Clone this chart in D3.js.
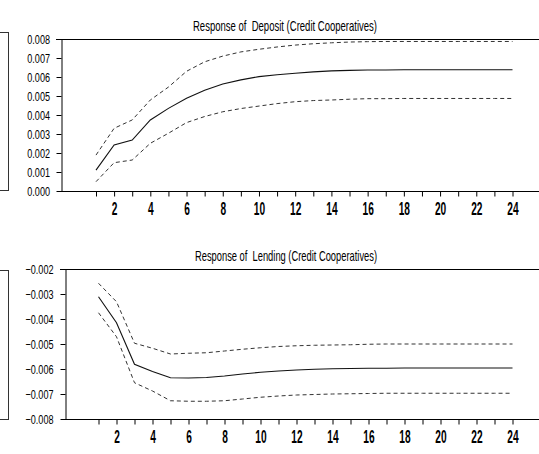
<!DOCTYPE html>
<html>
<head>
<meta charset="utf-8">
<script src="https://cdn.jsdelivr.net/npm/d3@7"></script>
<style>
  body { margin: 0; background: #fff; }
  svg { display: block; font-family: "Liberation Sans", Arial, sans-serif; }
  text { white-space: pre; }
</style>
</head>
<body>
<svg id="chart" width="539" height="454"></svg>
<script>
var periods = [1, 2, 3, 4, 5, 6, 7, 8, 9, 10, 11, 12, 13, 14, 15, 16, 17, 18, 19, 20, 21, 22, 23, 24];
var xTickLabels = [2, 4, 6, 8, 10, 12, 14, 16, 18, 20, 22, 24];

var depositTicks = [0.000, 0.001, 0.002, 0.003, 0.004, 0.005, 0.006, 0.007, 0.008];
var depositMid = [0.00110, 0.00242, 0.00268, 0.00374, 0.00435, 0.00488, 0.00530, 0.00563, 0.00585, 0.00602, 0.00612, 0.00620,
                  0.00627, 0.00632, 0.00635, 0.00637, 0.00637, 0.00638, 0.00638, 0.00638, 0.00638, 0.00638, 0.00638, 0.00638];
var depositUpper = [0.00189, 0.00330, 0.00374, 0.00479, 0.00547, 0.00630, 0.00680, 0.00710, 0.00732, 0.00746, 0.00758, 0.00768,
                    0.00775, 0.00780, 0.00784, 0.00786, 0.00787, 0.00787, 0.00787, 0.00787, 0.00787, 0.00787, 0.00787, 0.00787];
var depositLower = [0.00049, 0.00149, 0.00163, 0.00251, 0.00304, 0.00360, 0.00392, 0.00417, 0.00434, 0.00447, 0.00460, 0.00470,
                    0.00476, 0.00479, 0.00483, 0.00486, 0.00486, 0.00487, 0.00487, 0.00487, 0.00487, 0.00487, 0.00487, 0.00487];

var lendingTicks = [-0.008, -0.007, -0.006, -0.005, -0.004, -0.003, -0.002];
var lendingMid = [-0.00311, -0.00415, -0.00581, -0.00610, -0.00635, -0.00636, -0.00634, -0.00628, -0.00620, -0.00613, -0.00608, -0.00604,
                  -0.00601, -0.00599, -0.00598, -0.00597, -0.00597, -0.00596, -0.00596, -0.00596, -0.00596, -0.00596, -0.00596, -0.00596];
var lendingUpper = [-0.00257, -0.00331, -0.00497, -0.00517, -0.00540, -0.00537, -0.00535, -0.00528, -0.00521, -0.00515, -0.00510, -0.00507,
                    -0.00505, -0.00504, -0.00503, -0.00501, -0.00500, -0.00500, -0.00500, -0.00500, -0.00500, -0.00500, -0.00500, -0.00500];
var lendingLower = [-0.00375, -0.00471, -0.00655, -0.00688, -0.00727, -0.00729, -0.00729, -0.00727, -0.00720, -0.00713, -0.00708, -0.00704,
                    -0.00702, -0.00700, -0.00699, -0.00698, -0.00697, -0.00697, -0.00697, -0.00697, -0.00697, -0.00697, -0.00697, -0.00697];

var svg = d3.select('#chart');

// the source font is a narrow, tall one: squeeze Liberation Sans horizontally
var yScaleX = 0.70;
var xScaleX = 0.55;

function drawPanel(p) {
    var g = svg.append('g');

    // cropped frame of the neighbouring panel on the left
    g.append('rect')
        .attr('x', -10).attr('y', p.boxTop + 0.5)
        .attr('width', 18.5).attr('height', p.boxBottom - p.boxTop)
        .attr('fill', 'none').attr('stroke', '#333').attr('stroke-width', 1);

    var x = d3.scaleLinear().domain([1, 24]).range([p.x1, p.x24]);
    var y = d3.scaleLinear().domain(p.domain).range([p.bottom, p.top]);

    // frame lines
    g.append('line').attr('x1', p.left - 5).attr('x2', 539).attr('y1', p.top + 0.5).attr('y2', p.top + 0.5)
        .attr('stroke', '#000');

    var yAxis = d3.axisLeft(y).tickValues(p.ticks).tickSize(5).tickSizeOuter(0)
        .tickFormat(d3.format('.3f'));
    var ya = g.append('g').attr('transform', 'translate(' + (p.left + 0.5) + ',0)').call(yAxis);
    ya.select('.domain').attr('stroke', '#000');
    ya.selectAll('.tick text')
        .attr('font-size', 13).attr('fill', '#000').attr('font-family', 'inherit')
        .attr('x', -p.labelGap / yScaleX)
        .attr('transform', 'scale(' + yScaleX + ',1)');

    var xAxis = d3.axisBottom(x).tickValues(periods).tickSize(5).tickSizeOuter(0)
        .tickFormat(function (d) { return xTickLabels.indexOf(d) >= 0 ? d : ''; });
    var xa = g.append('g').attr('transform', 'translate(0,' + (p.bottom + 0.5) + ')').call(xAxis);
    xa.select('.domain').remove();
    xa.selectAll('.tick text')
        .attr('font-size', 18.5).attr('font-weight', 'bold').attr('fill', '#000').attr('font-family', 'inherit')
        .attr('y', 24).attr('dy', 0)
        .attr('transform', 'scale(' + xScaleX + ',1)');
    g.append('line').attr('x1', p.left).attr('x2', 539).attr('y1', p.bottom + 0.5).attr('y2', p.bottom + 0.5)
        .attr('stroke', '#000');

    var line = d3.line()
        .x(function (d, i) { return x(periods[i]); })
        .y(function (d) { return y(d); });

    [p.upper, p.lower].forEach(function (band) {
        g.append('path').datum(band).attr('d', line)
            .attr('fill', 'none').attr('stroke', '#333').attr('stroke-width', 1)
            .attr('stroke-dasharray', '4,3');
    });
    g.append('path').datum(p.mid).attr('d', line)
        .attr('fill', 'none').attr('stroke', '#111').attr('stroke-width', 1.1);

    g.append('text').attr('x', p.titleX).attr('y', p.titleY)
        .attr('text-anchor', 'middle').attr('font-size', 14.5).attr('fill', '#000')
        .attr('textLength', p.titleLen).attr('lengthAdjust', 'spacingAndGlyphs')
        .text(p.title);
}

drawPanel({
    title: 'Response of  Deposit (Credit Cooperatives)',
    titleX: 285, titleY: 30.5, titleLen: 184,
    domain: [0, 0.008], ticks: depositTicks,
    top: 39, bottom: 191, left: 61, x1: 96, x24: 512.5, labelGap: 11.5,
    boxTop: 32, boxBottom: 190,
    mid: depositMid, upper: depositUpper, lower: depositLower
});

drawPanel({
    title: 'Response of  Lending (Credit Cooperatives)',
    titleX: 286, titleY: 260.5, titleLen: 182,
    domain: [-0.008, -0.002], ticks: lendingTicks,
    top: 269, bottom: 419, left: 65, x1: 98.5, x24: 512.5, labelGap: 12,
    boxTop: 270, boxBottom: 419,
    mid: lendingMid, upper: lendingUpper, lower: lendingLower
});
</script>
</body>
</html>
